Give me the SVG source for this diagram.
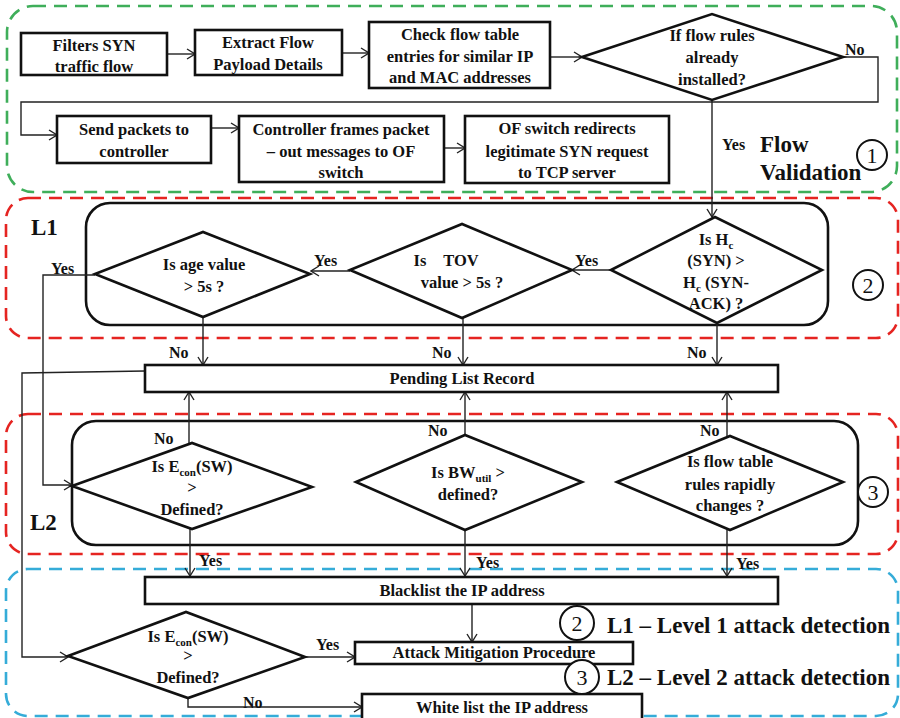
<svg xmlns="http://www.w3.org/2000/svg" width="900" height="718" viewBox="0 0 900 718" font-family="'Liberation Serif', Tinos, 'DejaVu Serif', serif">
  <style>
    text { font-family: "Liberation Serif", Tinos, "Times New Roman", "DejaVu Serif", serif; font-weight: bold; fill: #111; }
    .t { font-size: 16.5px; text-anchor: middle; }
    .l { font-size: 16px; }
    .big { font-size: 23px; }
    .box { fill: #fff; stroke: #111; stroke-width: 2.6; }
    .frame { fill: none; stroke: #111; stroke-width: 2.6; }
    .zone { fill: none; stroke-width: 2.6; stroke-dasharray: 13 8; }
    .green { stroke: #3fae5a; }
    .red { stroke: #e52421; }
    .blue { stroke: #35acd8; }
    .conn path { fill: none; stroke: #222; stroke-width: 1.4; }
    .ring { fill: #fff; stroke: #111; stroke-width: 2; }
    .num { font-size: 22px; font-weight: normal; text-anchor: middle; }
  </style>
  <defs>
    <marker id="arr" markerUnits="userSpaceOnUse" markerWidth="10" markerHeight="12" refX="9" refY="6" orient="auto">
      <path d="M1,1 L9,6 L1,11" fill="none" stroke="#222" stroke-width="1.4"/>
    </marker>
  </defs>

  <rect width="900" height="718" fill="#fff"/>

  <!-- dashed zones -->
  <g id="zones">
    <rect class="zone green" x="7" y="6" width="890" height="186" rx="26"/>
    <rect class="zone red" x="6" y="198" width="892" height="140" rx="22"/>
    <rect class="zone red" x="6" y="414" width="892" height="140" rx="22"/>
    <rect class="zone blue" x="6" y="569" width="892" height="147" rx="22"/>
  </g>

  <!-- inner frames -->
  <rect class="frame" x="86" y="203" width="742" height="122" rx="24"/>
  <rect class="frame" x="72" y="421" width="786" height="124" rx="24"/>

  <!-- connectors -->
  <g id="connectors" class="conn">
    <path d="M167,54 H195" marker-end="url(#arr)"/>
    <path d="M342,53 H369" marker-end="url(#arr)"/>
    <path d="M550,57 H582" marker-end="url(#arr)"/>
    <path d="M843,57 H878 V102 H21 V135 H57" marker-end="url(#arr)"/>
    <path d="M211,128 H239" marker-end="url(#arr)"/>
    <path d="M444,148 H465" marker-end="url(#arr)"/>
    <path d="M712,100 V217" marker-end="url(#arr)"/>
    <path d="M611,270 H572" marker-end="url(#arr)"/>
    <path d="M350,271 H311" marker-end="url(#arr)"/>
    <path d="M95,275 H43 V485 H72" marker-end="url(#arr)"/>
    <path d="M203,317 V365" marker-end="url(#arr)"/>
    <path d="M463,318 V365" marker-end="url(#arr)"/>
    <path d="M717,323 V365" marker-end="url(#arr)"/>
    <path d="M145,371 L22,373 V657 H68" marker-end="url(#arr)"/>
    <path d="M189,443 V392" marker-end="url(#arr)"/>
    <path d="M465,435 V392" marker-end="url(#arr)"/>
    <path d="M727,436 V392" marker-end="url(#arr)"/>
    <path d="M190,529 V576" marker-end="url(#arr)"/>
    <path d="M465,530 V576" marker-end="url(#arr)"/>
    <path d="M727,530 V576" marker-end="url(#arr)"/>
    <path d="M472,604 V642" marker-end="url(#arr)"/>
    <path d="M305,657 H355" marker-end="url(#arr)"/>
    <path d="M188,698 V707 H362" marker-end="url(#arr)"/>
  </g>

  <!-- connector labels -->
  <g id="labels">
    <text class="l" x="845" y="55">No</text>
    <text class="l" x="722" y="150">Yes</text>
    <text class="l" x="575" y="266">Yes</text>
    <text class="l" x="314" y="266">Yes</text>
    <text class="l" x="51" y="274">Yes</text>
    <text class="l" x="169" y="358">No</text>
    <text class="l" x="432" y="358">No</text>
    <text class="l" x="687" y="358">No</text>
    <text class="l" x="154" y="444">No</text>
    <text class="l" x="428" y="436">No</text>
    <text class="l" x="700" y="436">No</text>
    <text class="l" x="199" y="566">Yes</text>
    <text class="l" x="476" y="568">Yes</text>
    <text class="l" x="736" y="569">Yes</text>
    <text class="l" x="316" y="650">Yes</text>
    <text class="l" x="243" y="708">No</text>
  </g>

  <!-- flow validation stage -->
  <g id="n-filter">
    <rect class="box" x="21" y="33" width="146" height="42"/>
    <text class="t" x="94" y="51">Filters SYN</text>
    <text class="t" x="94" y="72">traffic flow</text>
  </g>
  <g id="n-extract">
    <rect class="box" x="195" y="30" width="147" height="45"/>
    <text class="t" x="268" y="48">Extract Flow</text>
    <text class="t" x="268" y="70">Payload Details</text>
  </g>
  <g id="n-check">
    <rect class="box" x="369" y="22" width="181" height="66"/>
    <text class="t" x="460" y="40">Check flow table</text>
    <text class="t" x="460" y="62">entries for similar IP</text>
    <text class="t" x="460" y="83">and MAC addresses</text>
  </g>
  <g id="n-installed">
    <polygon class="box" points="582,57 712,14 843,57 712,100"/>
    <text class="t" x="712" y="41">If flow rules</text>
    <text class="t" x="712" y="63">already</text>
    <text class="t" x="712" y="85">installed?</text>
  </g>
  <g id="n-send">
    <rect class="box" x="57" y="116" width="154" height="47"/>
    <text class="t" x="134" y="135">Send packets to</text>
    <text class="t" x="134" y="157">controller</text>
  </g>
  <g id="n-frames">
    <rect class="box" x="239" y="116" width="205" height="66"/>
    <text class="t" x="341" y="135">Controller frames packet</text>
    <text class="t" x="341" y="157">– out messages to OF</text>
    <text class="t" x="341" y="178">switch</text>
  </g>
  <g id="n-redirect">
    <rect class="box" x="465" y="116" width="204" height="67"/>
    <text class="t" x="567" y="134">OF switch redirects</text>
    <text class="t" x="567" y="157">legitimate SYN request</text>
    <text class="t" x="567" y="178">to TCP server</text>
  </g>
  <g id="stage-1">
    <text class="big" x="760" y="152">Flow</text>
    <text class="big" x="760" y="180">Validation</text>
    <circle class="ring" cx="872" cy="155" r="15"/>
    <text class="num" x="872" y="163">1</text>
  </g>

  <!-- level 1 checks -->
  <g id="stage-2">
    <text class="big" x="31" y="235">L1</text>
    <circle class="ring" cx="868" cy="285" r="15"/>
    <text class="num" x="868" y="293">2</text>
  </g>
  <g id="n-age">
    <polygon class="box" points="95,274 203,232 310,274 203,317"/>
    <text class="t" x="204" y="270">Is age value</text>
    <text class="t" x="204" y="292">&gt; 5s ?</text>
  </g>
  <g id="n-tov">
    <polygon class="box" points="350,270 462,224 572,270 462,318"/>
    <text class="t" x="420" y="266">Is</text>
    <text class="t" x="461" y="266">TOV</text>
    <text class="t" x="462" y="288">value &gt; 5s ?</text>
  </g>
  <g id="n-hc">
    <polygon class="box" points="611,270 715,217 822,270 717,323"/>
    <text class="t" x="716" y="245">Is H<tspan font-size="11" dy="4">c</tspan></text>
    <text class="t" x="716" y="266">(SYN) &gt;</text>
    <text class="t" x="716" y="288">H<tspan font-size="11" dy="4">c</tspan><tspan dy="-4"> (SYN-</tspan></text>
    <text class="t" x="716" y="309">ACK) ?</text>
  </g>

  <g id="n-pending">
    <rect class="box" x="145" y="365" width="633" height="27"/>
    <text class="t" x="462" y="384">Pending List Record</text>
  </g>

  <!-- level 2 checks -->
  <g id="stage-3">
    <text class="big" x="30" y="530">L2</text>
    <circle class="ring" cx="873" cy="492" r="15"/>
    <text class="num" x="873" y="500">3</text>
  </g>
  <g id="n-econ">
    <polygon class="box" points="72,486 192,443 312,487 192,529"/>
    <text class="t" x="192" y="472">Is E<tspan font-size="11" dy="4">con</tspan><tspan dy="-4">(SW)</tspan></text>
    <text class="t" x="192" y="493">&gt;</text>
    <text class="t" x="192" y="515">Defined?</text>
  </g>
  <g id="n-bw">
    <polygon class="box" points="356,482 465,435 582,482 465,530"/>
    <text class="t" x="468" y="478">Is  BW<tspan font-size="11" dy="4">util</tspan><tspan dy="-4">  &gt;</tspan></text>
    <text class="t" x="468" y="500">defined?</text>
  </g>
  <g id="n-flowtable">
    <polygon class="box" points="617,482 730,436 843,482 730,530"/>
    <text class="t" x="730" y="467">Is flow table</text>
    <text class="t" x="730" y="490">rules rapidly</text>
    <text class="t" x="730" y="511">changes ?</text>
  </g>

  <!-- mitigation stage -->
  <g id="n-blacklist">
    <rect class="box" x="145" y="577" width="633" height="27"/>
    <text class="t" x="462" y="596">Blacklist the IP address</text>
  </g>
  <g id="n-econ2">
    <polygon class="box" points="68,656 186,612 305,657 188,698"/>
    <text class="t" x="188" y="642">Is E<tspan font-size="11" dy="4">con</tspan><tspan dy="-4">(SW)</tspan></text>
    <text class="t" x="188" y="661">&gt;</text>
    <text class="t" x="188" y="683">Defined?</text>
  </g>
  <g id="n-attack">
    <rect class="box" x="355" y="642" width="278" height="22"/>
    <text class="t" x="494" y="658">Attack Mitigation Procedure</text>
  </g>
  <g id="n-whitelist">
    <rect class="box" x="362" y="694" width="280" height="26"/>
    <text class="t" x="502" y="713">White list the IP address</text>
  </g>

  <!-- legend -->
  <g id="legend">
    <circle class="ring" cx="577" cy="623" r="17"/>
    <text class="num" x="577" y="631">2</text>
    <text class="big" x="607" y="633">L1 – Level 1 attack detection</text>
    <circle class="ring" cx="582" cy="677" r="17"/>
    <text class="num" x="582" y="685">3</text>
    <text class="big" x="607" y="685">L2 – Level 2 attack detection</text>
  </g>
</svg>
